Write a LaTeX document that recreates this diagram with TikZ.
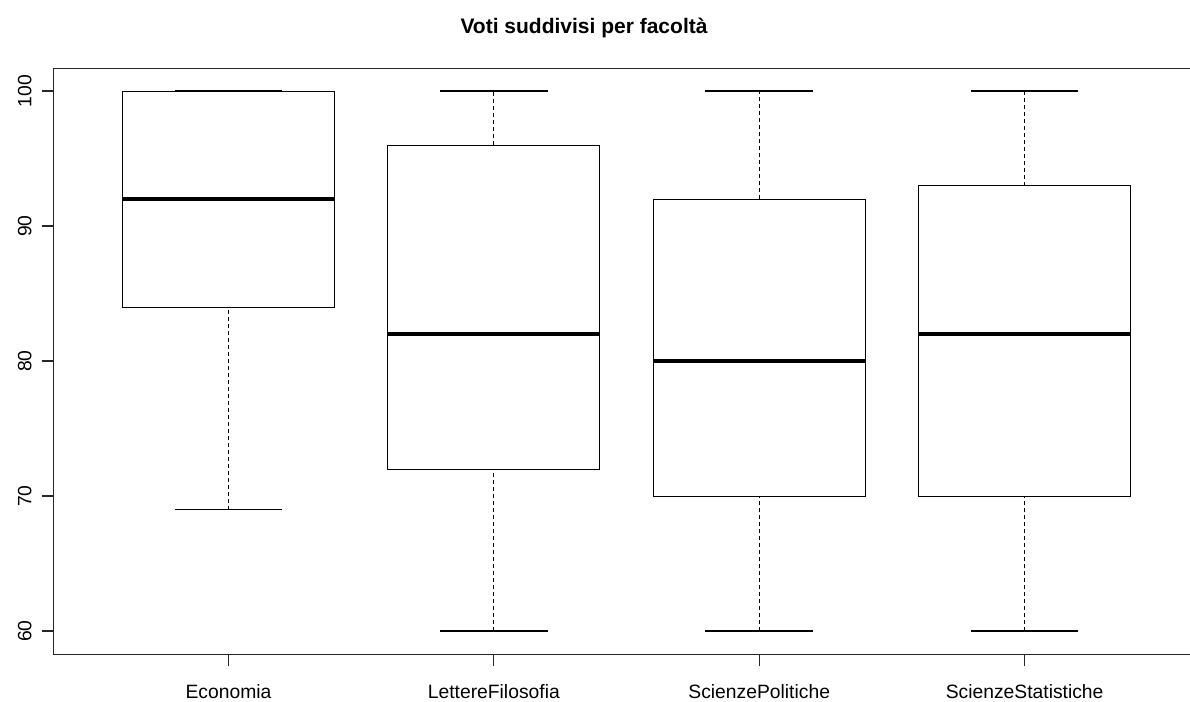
\documentclass[tikz,border=0pt]{standalone}
\usepackage{fontspec}
\setmainfont{Liberation Sans}
\begin{document}
\begin{tikzpicture}[x=1pt,y=-1pt,
  frame/.style={line width=1.1pt,black!85},
  boxline/.style={line width=1pt,black},
  medline/.style={line width=3.2pt,black},
  capline/.style={line width=1.6pt,black},
  whisk/.style={line width=0.9pt,black,dash pattern=on 4pt off 3pt},
  ticklab/.style={font=\fontsize{19.3}{21}\selectfont,inner sep=0pt},
  ttl/.style={font=\fontsize{21}{24}\selectfont\bfseries,inner sep=0pt}]
\useasboundingbox[fill=white] (0,0) rectangle (1190,701);
% frame (open at right)
\draw[frame] (1190,68.5) -- (53.3,68.5) -- (53.3,654.3) -- (1190,654.3);
% y ticks and labels
\foreach \v/\n in {100/ya,90/yb,80/yc,70/yd,60/ye}{
  \pgfmathsetmacro{\yy}{91+(100-\v)*13.5}
  \draw[frame] (41.7,\yy) -- (53.3,\yy);
  \node[ticklab,rotate=90,anchor=base] (\n) at (31.3,\yy) {\v};
}
% boxes: center / lower whisker / q1 / median / q3 / upper / label / name
\foreach \c/\lo/\qa/\me/\qb/\hi/\lab/\n in {
  228.5/69/84/92/100/100/Economia/ea,
  493.8/60/72/82/96/100/LettereFilosofia/lf,
  759.2/60/70/80/92/100/ScienzePolitiche/sp,
  1024.6/60/70/82/93/100/ScienzeStatistiche/ss}{
  \pgfmathsetmacro{\ylo}{91+(100-\lo)*13.5}
  \pgfmathsetmacro{\yqa}{91+(100-\qa)*13.5}
  \pgfmathsetmacro{\yme}{91+(100-\me)*13.5}
  \pgfmathsetmacro{\yqb}{91+(100-\qb)*13.5}
  \pgfmathsetmacro{\yhi}{91+(100-\hi)*13.5}
  \draw[whisk] (\c,\ylo) -- (\c,\yqa);
  \draw[whisk] (\c,\yqb) -- (\c,\yhi);
  \draw[capline] (\c-53.8,\ylo) -- (\c+53.8,\ylo);
  \draw[capline] (\c-53.8,\yhi) -- (\c+53.8,\yhi);
  \draw[boxline] (\c-106,\yqa) rectangle (\c+106,\yqb);
  \draw[medline] (\c-106,\yme) -- (\c+106,\yme);
  \draw[frame] (\c,654.3) -- (\c,666);
  \node[ticklab,anchor=base] (\n) at (\c,698.3) {\lab};
}
\node[ttl,anchor=base] (title) at (584,33.3) {Voti suddivisi per facoltà};
\end{tikzpicture}
\end{document}
